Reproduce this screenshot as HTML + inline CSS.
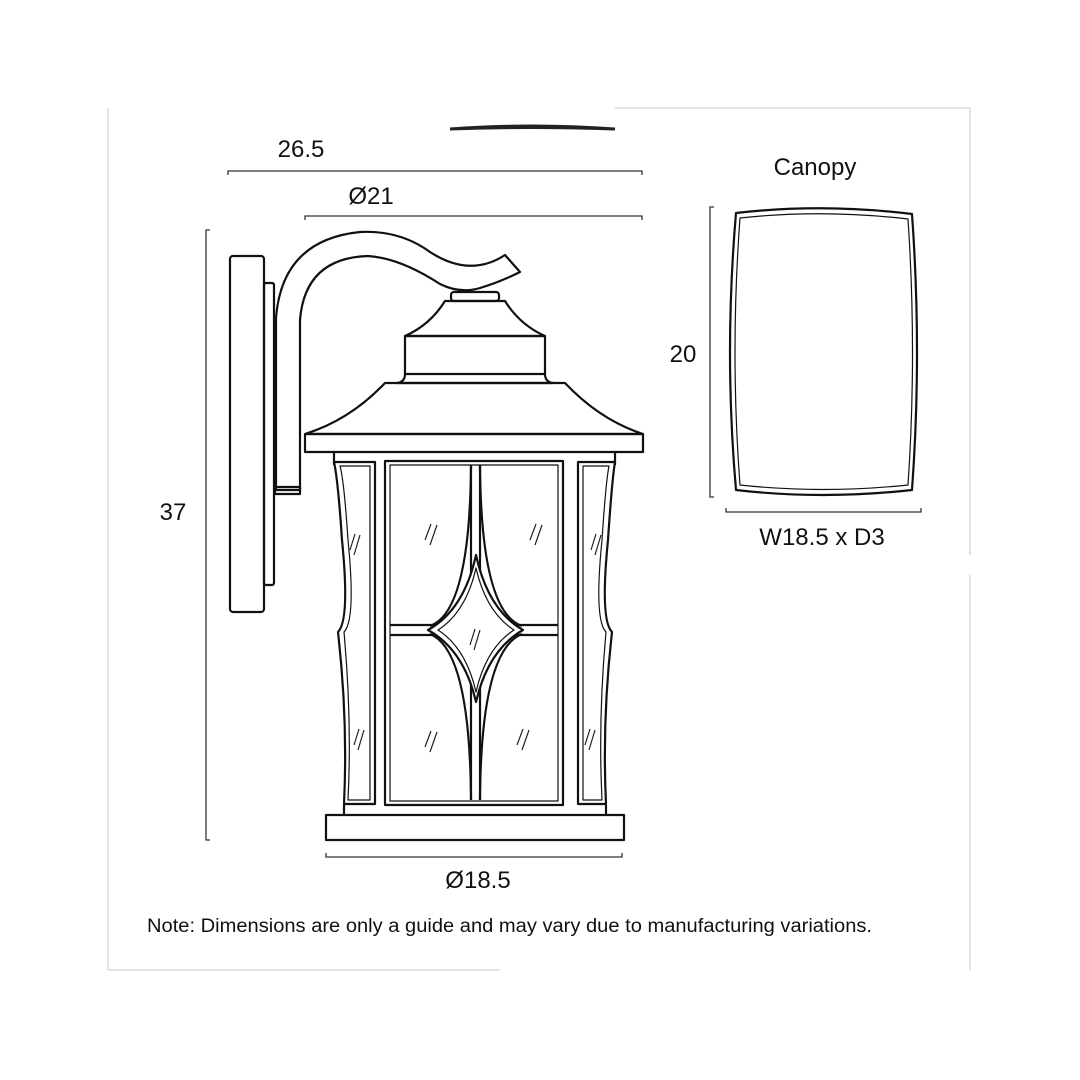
<!DOCTYPE html>
<html><head><meta charset="utf-8"><style>
html,body{margin:0;padding:0;background:#fff}
svg{display:block}
text{font-family:"Liberation Sans",sans-serif;fill:#111}
</style></head><body>
<svg width="1080" height="1080" viewBox="0 0 1080 1080" xmlns="http://www.w3.org/2000/svg">
<g stroke="#e4e4e4" stroke-width="2" fill="none">
<line x1="615" y1="108" x2="970" y2="108"/>
<line x1="108" y1="108" x2="108" y2="970"/>
<line x1="970" y1="108" x2="970" y2="555"/>
<line x1="970" y1="575" x2="970" y2="970"/>
<line x1="108" y1="970" x2="500" y2="970"/>
</g>
<path d="M450 129 Q530 123 615 129 Q530 126 450 129Z" stroke="#222" stroke-width="3" fill="#222"/>
<g stroke="#333" stroke-width="1.3" fill="none">
<path d="M228 175V171H642V175"/>
<path d="M305 220V216H642V220"/>
<path d="M210 230H206V840H210"/>
<path d="M326 853V857H622V853"/>
<path d="M714 207H710V497H714"/>
<path d="M726 508V512H921V508"/>
</g>
<g font-size="24">
<text x="301" y="157" text-anchor="middle">26.5</text>
<text x="371" y="204" text-anchor="middle">Ø21</text>
<text x="173" y="520" text-anchor="middle">37</text>
<text x="478" y="888" text-anchor="middle">Ø18.5</text>
<text x="815" y="175" text-anchor="middle">Canopy</text>
<text x="683" y="362" text-anchor="middle">20</text>
<text x="822" y="545" text-anchor="middle">W18.5 x D3</text>
</g>
<text x="147" y="932" font-size="19" textLength="725" lengthAdjust="spacingAndGlyphs">Note: Dimensions are only a guide and may vary due to manufacturing variations.</text>
<g stroke="#111" stroke-width="2.2" fill="none" stroke-linejoin="round">
<path d="M736 213 Q822 203 912 214 Q922 353 912 490 Q822 500 736 490 Q724 353 736 213Z"/>
<path d="M740 218 Q822 209 908 219 Q917 353 908 485 Q822 494 740 485 Q730 353 740 218Z" stroke-width="1.2"/>
<rect x="230" y="256" width="34" height="356" rx="3"/>
<rect x="264" y="283" width="10" height="302" rx="2"/>
<path d="M276 490V318 Q282 240 360 232 Q400 230 430 252 Q470 278 505 255 L520 272 Q500 282 480 288 Q460 294 440 284 Q400 258 368 256 Q305 258 300 320 V490Z"/>
<rect x="275" y="487" width="25" height="7"/>
<rect x="451" y="292" width="48" height="9" rx="3"/>
<path d="M445 301H505 Q520 325 545 336H405 Q430 325 445 301Z"/>
<rect x="405" y="336" width="140" height="38"/>
<path d="M405 374 Q405 382 397 383H553 Q545 382 545 374"/>
<path d="M385 383H565 Q600 420 643 434H305 Q350 420 385 383Z"/>
<rect x="305" y="434" width="338" height="18"/>
<path d="M334 452V465 M615 452V465"/>
<path d="M334 462H375V804H344Q348 720 338 632Q350 620 342 540Q338 480 334 462Z"/>
<path d="M340 466H370V800H348Q352 720 344 632Q356 620 348 540Q344 480 340 466Z" stroke-width="1.2"/>
<path d="M615 462H578V804H606Q602 720 612 632Q600 620 608 540Q612 480 615 462Z"/>
<path d="M609 466H583V800H602Q598 720 606 632Q594 620 602 540Q606 480 609 466Z" stroke-width="1.2"/>
<rect x="385" y="461" width="178" height="344"/>
<rect x="390" y="465" width="168" height="336" stroke-width="1.2"/>
<path d="M471 465V800 M480 465V800"/>
<path d="M390 625H558 M390 635H558"/>
<path d="M471 465 Q470 612 430 626 M480 465 Q481 612 522 626"/>
<path d="M471 800 Q470 650 430 634 M480 800 Q481 650 522 634"/>
<path d="M476 555 Q488 610 523 630 Q488 650 476 702 Q464 650 428 630 Q464 610 476 555Z" fill="#fff"/>
<path d="M476 568 Q486 612 514 630 Q486 648 476 692 Q466 648 438 630 Q466 612 476 568Z" stroke-width="1.2"/>
<rect x="326" y="815" width="298" height="25"/>
<path d="M344 805V815 M606 805V815"/>
</g>
<g stroke="#222" stroke-width="1.2" fill="none">
<path d="M425 540l6-16M430 545l7-20"/><path d="M530 540l6-16M535 545l7-20"/>
<path d="M350 550l5-16M354 555l6-20"/><path d="M591 550l5-16M595 555l6-20"/>
<path d="M470 645l5-16M474 650l6-20"/>
<path d="M425 747l6-16M430 752l7-20"/><path d="M517 745l6-16M522 750l7-20"/>
<path d="M354 745l5-16M358 750l6-20"/><path d="M585 745l5-16M589 750l6-20"/>
</g>
</svg>
</body></html>
